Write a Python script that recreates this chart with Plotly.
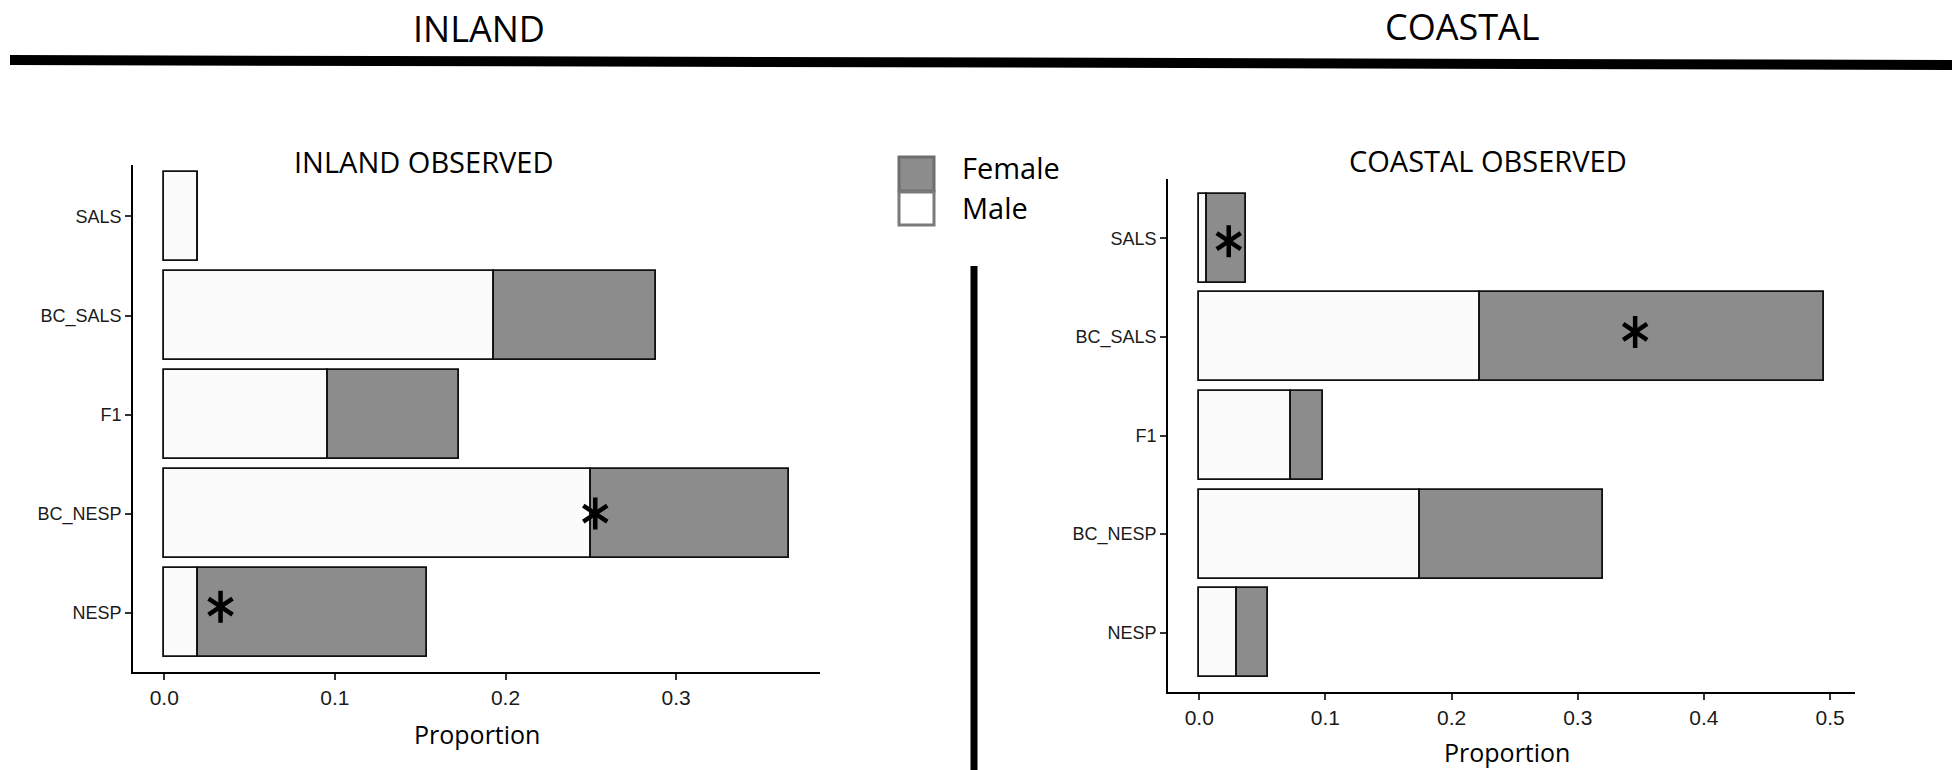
import plotly.graph_objects as go

# ---------------- data ----------------
categories = ["SALS", "BC_SALS", "F1", "BC_NESP", "NESP"]  # top to bottom
inland_male = [0.020, 0.193, 0.096, 0.250, 0.020]
inland_female = [0.000, 0.095, 0.077, 0.116, 0.134]
coastal_male = [0.0065, 0.2225, 0.0724, 0.175, 0.030]
coastal_female = [0.0305, 0.2725, 0.0256, 0.145, 0.0244]

# significance asterisks (x value, category)
inland_sig_x = [0.2526, 0.033]
inland_sig_cat = ["BC_NESP", "NESP"]
inland_sig_dy = [0.0, 0.06]
coastal_sig_x = [0.0234, 0.3455]
coastal_sig_cat = ["SALS", "BC_SALS"]
coastal_sig_dy = [-0.03, 0.05]

x_ticks_inland = [0.0, 0.1, 0.2, 0.3]
x_ticks_coastal = [0.0, 0.1, 0.2, 0.3, 0.4, 0.5]
sex_labels = ["Female", "Male"]

# ---------------- style ----------------
W, H = 1958, 770
MALE_FILL = "#fbfbfb"
FEMALE_FILL = "#8c8c8c"
EDGE = "#111111"
YTICK_FONT = dict(family="Liberation Sans, Arial, sans-serif", size=18, color="#1a1a1a")
XTICK_FONT = dict(family="Liberation Sans, Arial, sans-serif", size=21, color="#1a1a1a")
TITLE_FONT = dict(family="Open Sans, sans-serif", size=29, color="#000")

n = len(categories)
ypos = {c: n - 1 - i for i, c in enumerate(categories)}
yvals = [ypos[c] for c in categories]


def px_x(p):
    return p / W


def px_y(p):
    return 1 - p / H


fig = go.Figure()


def add_panel(male, female, sig_x, sig_cat, sig_dy, xa, ya):
    fig.add_trace(go.Bar(y=yvals, x=male, orientation="h", width=0.9,
                         marker=dict(color=MALE_FILL, line=dict(color=EDGE, width=1.8)),
                         xaxis=xa, yaxis=ya, showlegend=False, name="Male"))
    fig.add_trace(go.Bar(y=yvals, x=female, base=male, orientation="h", width=0.9,
                         marker=dict(color=FEMALE_FILL, line=dict(color=EDGE, width=1.8)),
                         xaxis=xa, yaxis=ya, showlegend=False, name="Female"))
    sy = [ypos[c] + d for c, d in zip(sig_cat, sig_dy)]
    for sym in ["y-up-open", "y-down-open"]:
        fig.add_trace(go.Scatter(x=sig_x, y=sy, mode="markers", xaxis=xa, yaxis=ya,
                                 marker=dict(symbol=sym, size=20, color="#000",
                                             line=dict(color="#000", width=4.5)),
                                 showlegend=False, hoverinfo="skip"))


add_panel(inland_male, inland_female, inland_sig_x, inland_sig_cat, inland_sig_dy, "x", "y")
add_panel(coastal_male, coastal_female, coastal_sig_x, coastal_sig_cat, coastal_sig_dy, "x2", "y2")


def xaxis_style(dom, rng, ticks):
    return dict(domain=dom, range=rng, tickvals=ticks, ticktext=[f"{t:.1f}" for t in ticks],
                showline=True, linecolor="#000", linewidth=1.8, ticks="outside",
                ticklen=6, tickwidth=1.5, tickcolor="#333", showgrid=False, zeroline=False,
                tickfont=XTICK_FONT, fixedrange=True)


def yaxis_style(dom, rng, anchor):
    return dict(domain=dom, range=rng, tickvals=yvals, ticktext=categories,
                showline=True, linecolor="#000", linewidth=1.8, ticks="outside",
                ticklen=6, tickwidth=1.5, tickcolor="#333", showgrid=False, zeroline=False,
                tickfont=YTICK_FONT, anchor=anchor, fixedrange=True)


in_max = max(m + f for m, f in zip(inland_male, inland_female))
co_max = max(m + f for m, f in zip(coastal_male, coastal_female))

fig.update_layout(
    width=W, height=H, autosize=False,
    margin=dict(l=0, r=0, t=0, b=0),
    paper_bgcolor="white", plot_bgcolor="white",
    barmode="overlay", bargap=0,
    xaxis=xaxis_style([px_x(133), px_x(820)], [-0.05 * in_max, 1.05 * in_max], x_ticks_inland),
    yaxis=yaxis_style([px_y(672), px_y(165)], [-0.6, n - 1 + 0.52], "x"),
    xaxis2=dict(xaxis_style([px_x(1168), px_x(1855)], [-0.05 * co_max, 1.05 * co_max],
                            x_ticks_coastal), anchor="y2"),
    yaxis2=yaxis_style([px_y(692), px_y(179)], [-0.6, n - 1 + 0.6], "x2"),
)
fig.layout.xaxis.anchor = "y"

ann = []
# top titles
ann.append(dict(text="INLAND", x=px_x(479), y=px_y(28), font=dict(family="Open Sans", size=36, color="#000")))
ann.append(dict(text="COASTAL", x=px_x(1462), y=px_y(26), font=dict(family="Open Sans", size=36, color="#000")))
# panel titles
ann.append(dict(text="INLAND OBSERVED", x=px_x(423), y=px_y(162), font=TITLE_FONT))
ann.append(dict(text="COASTAL OBSERVED", x=px_x(1488), y=px_y(160), font=TITLE_FONT))
# axis titles
ann.append(dict(text="Proportion", x=px_x(477), y=px_y(734), font=dict(family="Open Sans", size=25, color="#000")))
ann.append(dict(text="Proportion", x=px_x(1507), y=px_y(752), font=dict(family="Open Sans", size=25, color="#000")))
# legend text
for lab, yc in zip(sex_labels, [167, 207]):
    ann.append(dict(text=lab, x=px_x(960), y=px_y(yc), xanchor="left",
                    font=dict(family="Open Sans", size=29, color="#000")))
for a in ann:
    a.setdefault("xanchor", "center")
    a.update(xref="paper", yref="paper", yanchor="middle", showarrow=False)
fig.update_layout(annotations=ann)

shapes = [
    # thick horizontal rule
    dict(type="line", xref="paper", yref="paper", x0=px_x(10), y0=px_y(60), x1=px_x(1952), y1=px_y(65),
         line=dict(color="#000", width=10)),
    # vertical divider
    dict(type="line", xref="paper", yref="paper", x0=px_x(974), y0=px_y(266), x1=px_x(974), y1=px_y(770),
         line=dict(color="#000", width=7)),
    # legend keys
    dict(type="rect", xref="paper", yref="paper", x0=px_x(899), y0=px_y(191), x1=px_x(934), y1=px_y(157),
         fillcolor=FEMALE_FILL, line=dict(color="#6e6e6e", width=3)),
    dict(type="rect", xref="paper", yref="paper", x0=px_x(899), y0=px_y(225), x1=px_x(934), y1=px_y(192),
         fillcolor="#ffffff", line=dict(color="#7a7a7a", width=3)),
]
fig.update_layout(shapes=shapes)

fig.write_html("out.html", config={"displayModeBar": False},
               post_script="document.body.style.margin='0px';document.body.style.overflow='hidden';")
